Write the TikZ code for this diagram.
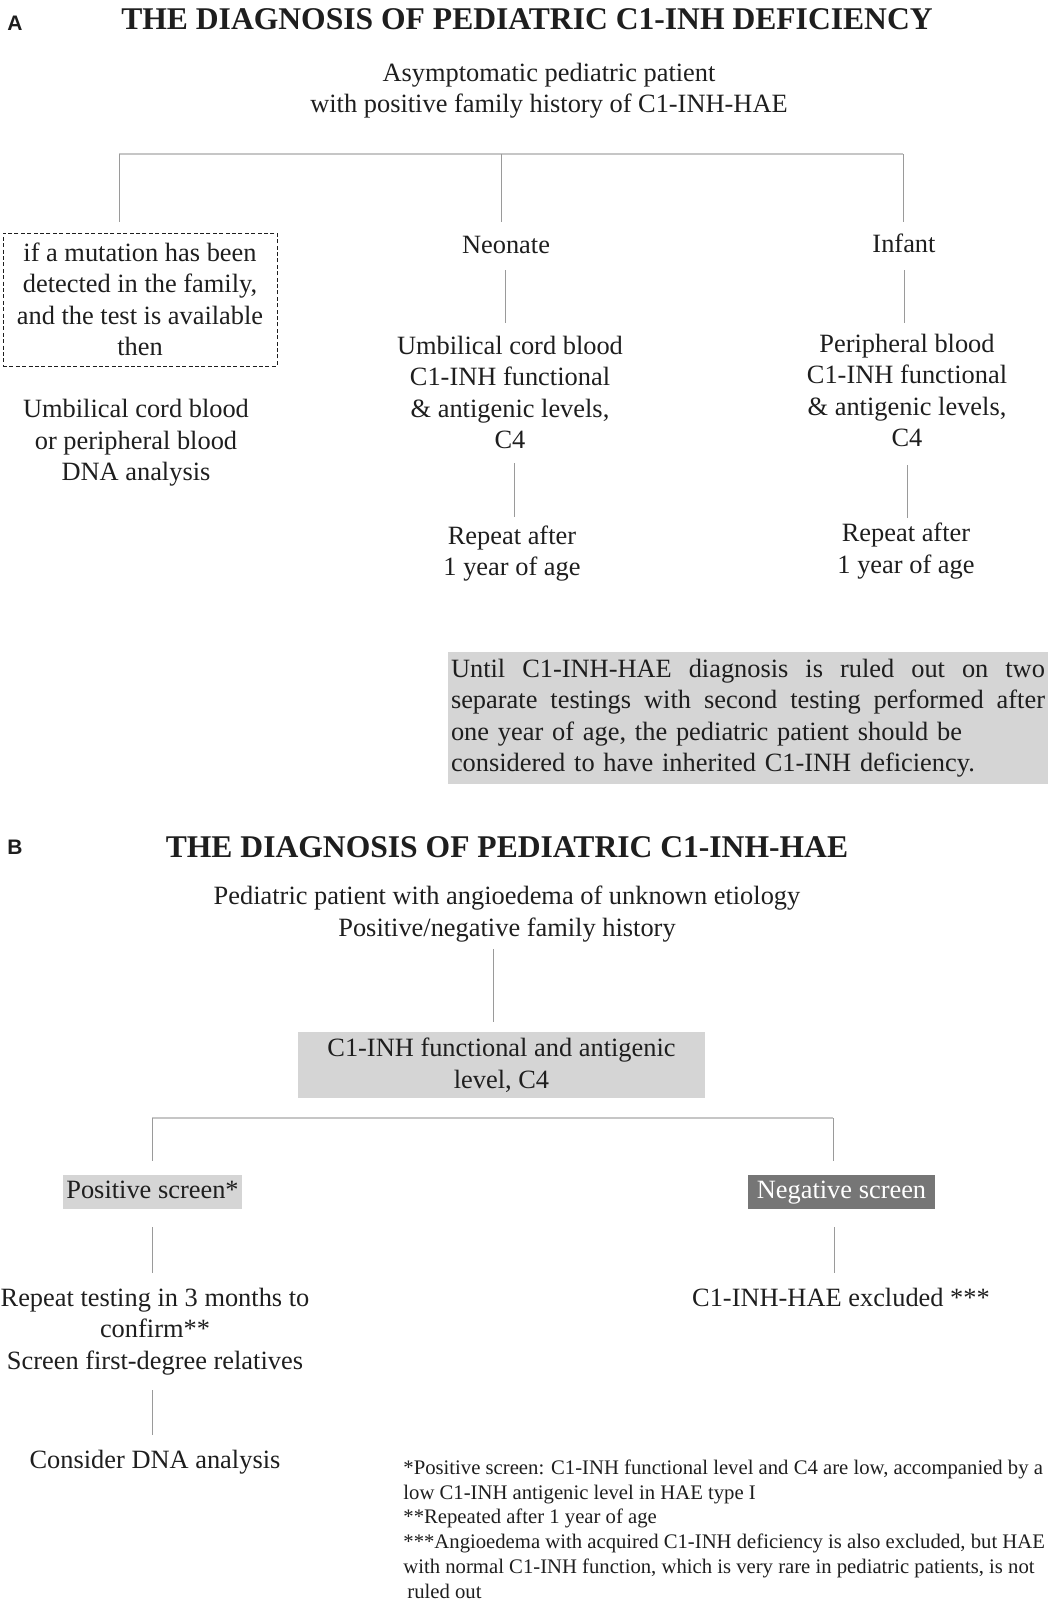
\documentclass[tikz,border=0pt]{standalone}
\usepackage{fontspec}
\setmainfont{Liberation Serif}
\newfontfamily\panelfont{Liberation Sans}
\usetikzlibrary{positioning}

\definecolor{ink}{HTML}{1E1E1E}
\definecolor{paleshade}{HTML}{D5D5D5}
\definecolor{darkshade}{HTML}{767676}
\definecolor{barline}{HTML}{C6C6C6}
\definecolor{stemline}{HTML}{9A9A9A}

\newcommand{\bodysize}{\fontsize{13.2}{15.75}\selectfont}
\newcommand{\headsize}{\fontsize{15.8}{18}\selectfont}
\newcommand{\notesize}{\fontsize{10.35}{12.4}\selectfont}
\newcommand{\spreadline}[1]{\makebox[297pt][s]{\spaceskip=\fontdimen2\font plus 1fil\relax #1}}

\begin{document}
\begin{tikzpicture}
                    [x=0.5pt, y=-0.5pt, every node/.style={text=ink, inner sep=0pt, align=center, font=\bodysize}]
                    \tikzset{heading/.style = {font=\headsize\bfseries},
                             panel/.style = {font=\panelfont\bfseries\fontsize{10.5}{12}\selectfont},
                             mutbox/.style = {draw=ink, line width=0.5pt, dash pattern=on 2pt off 1.2pt,
                                              minimum width=137pt, minimum height=66.5pt},
                             shade/.style = {fill=paleshade},
                             darkshade/.style = {fill=darkshade, text=white},
                             screen/.style = {minimum height=17pt, text height=9.5pt, text depth=3pt},
                             bar/.style = {draw=barline, line width=0.9pt},
                             stem/.style = {draw=stemline, line width=0.5pt}}
                    \useasboundingbox (0,0) rectangle (1051,1600);

                    % panel A
                    \node[panel]   (labA)   at (15,23)     {A};
                    \node[heading] (titleA) at (527,19)    {THE DIAGNOSIS OF PEDIATRIC C1-INH DEFICIENCY};
                    \node          (patA)   at (549,90.5)  {Asymptomatic pediatric patient\\with positive family history of C1-INH-HAE};
                    \node[mutbox]  (mut)    at (140,299.5) {if a mutation has been\\detected in the family,\\and the test is available\\then};
                    \node          (dnaA)   at (136,443)   {Umbilical cord blood\\or peripheral blood\\DNA analysis};
                    \node          (neo)    at (506,245)   {Neonate};
                    \node          (umb)    at (510,392.5) {Umbilical cord blood\\C1-INH functional\\\& antigenic levels,\\C4};
                    \node          (repN)   at (512,553.5) {Repeat after\\1 year of age};
                    \node          (inf)    at (904,243)   {Infant};
                    \node          (per)    at (907,390.5) {Peripheral blood\\C1-INH functional\\\& antigenic levels,\\C4};
                    \node          (repI)   at (906,551)   {Repeat after\\1 year of age};
                    \node[shade, text width=297pt, inner xsep=1.5pt, minimum height=66pt, align=left] (note) at (748,718)
                        {\spreadline{Until C1-INH-HAE diagnosis is ruled out on two}\\
                         \spreadline{separate testings with second testing performed after}\\
                         one year of age, the pediatric patient should be\\
                         considered to have inherited C1-INH deficiency.};

                    \coordinate (aL) at (119,154);  \coordinate (aLd) at (119,222);
                    \coordinate (aM) at (501,154);  \coordinate (aMd) at (501,222);
                    \coordinate (aR) at (903,154);  \coordinate (aRd) at (903,222);
                    \coordinate (n1) at (505,270);  \coordinate (n2) at (505,323);
                    \coordinate (n3) at (514,463);  \coordinate (n4) at (514,517);
                    \coordinate (i1) at (904,270);  \coordinate (i2) at (904,323);
                    \coordinate (i3) at (907,465);  \coordinate (i4) at (907,518);

                    \draw[bar] (aL) to (aR);
                    \foreach \from/\to in {aL/aLd,aM/aMd,aR/aRd,n1/n2,n3/n4,i1/i2,i3/i4}
                        \draw[stem] (\from) to (\to);

                    % panel B
                    \node[panel]   (labB)   at (15,847)    {B};
                    \node[heading] (titleB) at (507,847)   {THE DIAGNOSIS OF PEDIATRIC C1-INH-HAE};
                    \node          (patB)   at (507,914)   {Pediatric patient with angioedema of unknown etiology\\Positive/negative family history};
                    \node[shade, minimum width=203.5pt, minimum height=33pt] (lvl) at (501.5,1065) {C1-INH functional and antigenic\\level, C4};
                    \node[shade, screen, minimum width=89.5pt] (pos) at (152.5,1192) {Positive screen*};
                    \node[darkshade, screen, minimum width=93.5pt] (neg) at (841.5,1192) {Negative screen};
                    \node          (repT)   at (155,1331.5) {Repeat testing in 3 months to\\confirm**\\Screen first-degree relatives};
                    \node          (cons)   at (155,1462)  {Consider DNA analysis};
                    \node          (excl)   at (841,1297)  {C1-INH-HAE excluded ***};
                    \node[font=\notesize, align=left, anchor=west] (foot) at (403,1529)
                        {*Positive screen: C1-INH functional level and C4 are low, accompanied by a\\
                         low C1-INH antigenic level in HAE type I\\
                         **Repeated after 1 year of age\\
                         ***Angioedema with acquired C1-INH deficiency is also excluded, but HAE\\
                         with normal C1-INH function, which is very rare in pediatric patients, is not\\
                         \hspace{2pt}ruled out};

                    \coordinate (b0) at (493,949);  \coordinate (b1) at (493,1022);
                    \coordinate (bL) at (152,1118); \coordinate (bLd) at (152,1161);
                    \coordinate (bR) at (833,1118); \coordinate (bRd) at (833,1161);
                    \coordinate (p1) at (152,1227); \coordinate (p2) at (152,1273);
                    \coordinate (p3) at (152,1390); \coordinate (p4) at (152,1435);
                    \coordinate (q1) at (834,1227); \coordinate (q2) at (834,1273);

                    \draw[bar] (bL) to (bR);
                    \foreach \from/\to in {b0/b1,bL/bLd,bR/bRd,p1/p2,p3/p4,q1/q2}
                        \draw[stem] (\from) to (\to);
                \end{tikzpicture}
\end{document}
